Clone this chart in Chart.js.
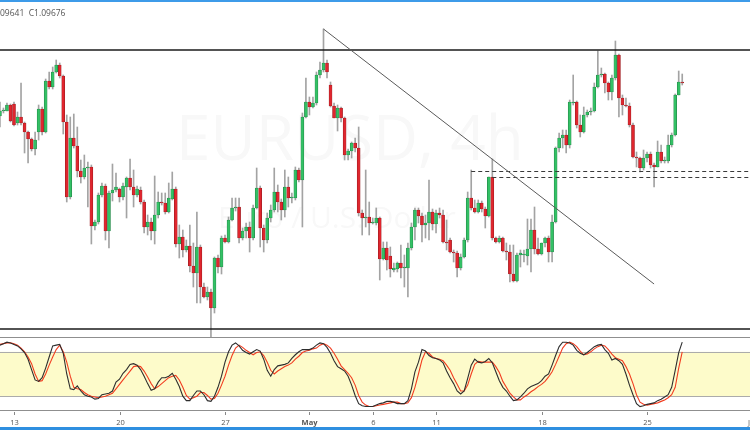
<!DOCTYPE html>
<html>
<head>
<meta charset="utf-8">
<title>EURUSD 4h</title>
<script src="https://cdn.jsdelivr.net/npm/chart.js@4.4.0/dist/chart.umd.min.js"></script>
<style>
  html, body { margin: 0; padding: 0; background: #fff; }
  #wrap { position: relative; width: 750px; height: 430px; overflow: hidden; font-family: "Open Sans", "DejaVu Sans", sans-serif; }
  #mainBox { position: absolute; left: 0; top: 0; width: 750px; height: 337px; }
  #oscBox { position: absolute; left: 0; top: 337px; width: 750px; height: 93px; }
  #topbar { position: absolute; left: 0; top: 0; width: 750px; height: 2px; background: #3d9be9; }
  #bottombar { position: absolute; left: 0; top: 427px; width: 750px; height: 3px; background: #2f8fe0; }
  #legend { position: absolute; left: 0; top: 7px; font-size: 8.5px; color: #555; white-space: nowrap; }
</style>
</head>
<body>
<div id="wrap">
  <div id="mainBox"><canvas id="main"></canvas></div>
  <div id="oscBox"><canvas id="osc"></canvas></div>
  <div id="topbar"></div>
  <div id="bottombar"></div>
  <div id="legend">09641&nbsp; C1.09676</div>
</div>
<script>
// candle index: 0 = Apr 13 00:00, 6 candles per trading day (4h)
const firstCandle = -4;

const open = [
  1.0934, 1.0939, 1.0939, 1.0945,
  1.0946, 1.0927, 1.0933, 1.0927, 1.0918, 1.0911, 1.0901, 1.0918, 1.0941, 1.0918,
  1.0969, 1.0963, 1.0978, 1.0985, 1.0974, 1.0928, 1.0853, 1.0912, 1.0904, 1.0879,
  1.0873, 1.0882, 1.0883, 1.0824, 1.0828, 1.0855, 1.0864, 1.0819, 1.0857, 1.0860,
  1.0861, 1.0853, 1.0863, 1.0872, 1.0863, 1.0855, 1.0860, 1.0848, 1.0823, 1.0828,
  1.0819, 1.0835, 1.0848, 1.0847, 1.0838, 1.0851, 1.0861, 1.0806, 1.0813, 1.0800,
  1.0804, 1.0784, 1.0777, 1.0803, 1.0763, 1.0753, 1.0758, 1.0742, 1.0792, 1.0783,
  1.0812, 1.0808, 1.0830, 1.0842, 1.0843, 1.0812, 1.0819, 1.0823, 1.0812, 1.0842,
  1.0862, 1.0822, 1.0810, 1.0832, 1.0840, 1.0858, 1.0848, 1.0840, 1.0863, 1.0852,
  1.0852, 1.0880, 1.0870, 1.0933, 1.0948, 1.0943, 1.0947, 1.0975, 1.0980, 1.0987,
  1.0965, 1.0944, 1.0932, 1.0942, 1.0932, 1.0895, 1.0899, 1.0907, 1.0902, 1.0837,
  1.0832, 1.0833, 1.0827, 1.0827, 1.0832, 1.0791, 1.0802, 1.0794, 1.0780, 1.0781,
  1.0787, 1.0782, 1.0782, 1.0802, 1.0823, 1.0840, 1.0834, 1.0825, 1.0827, 1.0838,
  1.0826, 1.0837, 1.0835, 1.0808, 1.0810, 1.0798, 1.0797, 1.0782, 1.0793, 1.0810,
  1.0852, 1.0842, 1.0838, 1.0847, 1.0841, 1.0834, 1.0873, 1.0812, 1.0808, 1.0812,
  1.0799, 1.0798, 1.0776, 1.0769, 1.0795, 1.0795, 1.0794, 1.0801, 1.0820, 1.0801,
  1.0796, 1.0807, 1.0812, 1.0798, 1.0828, 1.0902, 1.0912, 1.0915, 1.0905, 1.0947,
  1.0948, 1.0925, 1.0918, 1.0935, 1.0938, 1.0939, 1.0963, 1.0975, 1.0976, 1.0967,
  1.0958, 1.0972, 1.0995, 1.0952, 1.0945, 1.0944, 1.0925, 1.0893, 1.0892, 1.0882,
  1.0892, 1.0896, 1.0885, 1.0883, 1.0898, 1.0889, 1.0889, 1.0905, 1.0915, 1.0955,
  1.0968
];
const high = [
  1.0948, 1.0942, 1.0947, 1.0946,
  1.0948, 1.0938, 1.0967, 1.0928, 1.0919, 1.0912, 1.0918, 1.0945, 1.0943, 1.0971,
  1.0978, 1.0983, 1.0990, 1.0987, 1.0975, 1.0935, 1.0933, 1.0936, 1.0923, 1.0890,
  1.0895, 1.0888, 1.0885, 1.0830, 1.0857, 1.0867, 1.0866, 1.0859, 1.0886, 1.0877,
  1.0862, 1.0867, 1.0873, 1.0891, 1.0880, 1.0864, 1.0863, 1.0850, 1.0835, 1.0832,
  1.0874, 1.0858, 1.0857, 1.0857, 1.0867, 1.0878, 1.0863, 1.0825, 1.0820, 1.0810,
  1.0825, 1.0807, 1.0838, 1.0805, 1.0767, 1.0763, 1.0761, 1.0793, 1.0795, 1.0814,
  1.0815, 1.0833, 1.0852, 1.0852, 1.0852, 1.0822, 1.0827, 1.0828, 1.0845, 1.0882,
  1.0864, 1.0825, 1.0837, 1.0845, 1.0882, 1.0865, 1.0851, 1.0880, 1.0873, 1.0857,
  1.0883, 1.0882, 1.0937, 1.0972, 1.0953, 1.0953, 1.0978, 1.0988, 1.1021, 1.0990,
  1.0968, 1.0947, 1.0945, 1.0943, 1.0933, 1.0901, 1.0908, 1.0912, 1.0923, 1.0840,
  1.0880, 1.0848, 1.0832, 1.0842, 1.0833, 1.0808, 1.0808, 1.0803, 1.0787, 1.0788,
  1.0805, 1.0795, 1.0807, 1.0827, 1.0842, 1.0842, 1.0837, 1.0835, 1.0870, 1.0841,
  1.0840, 1.0842, 1.0840, 1.0830, 1.0812, 1.0800, 1.0799, 1.0796, 1.0812, 1.0858,
  1.0880, 1.0850, 1.0850, 1.0849, 1.0843, 1.0873, 1.0891, 1.0813, 1.0814, 1.0813,
  1.0807, 1.0805, 1.0805, 1.0797, 1.0800, 1.0800, 1.0831, 1.0831, 1.0843, 1.0812,
  1.0807, 1.0813, 1.0814, 1.0835, 1.0903, 1.0917, 1.0920, 1.0920, 1.0950, 1.0975,
  1.0949, 1.0935, 1.0943, 1.0940, 1.0942, 1.0967, 1.0999, 1.0982, 1.0977, 1.0968,
  1.0975, 1.1009, 1.0996, 1.0955, 1.0952, 1.0947, 1.0927, 1.0898, 1.0893, 1.0900,
  1.0898, 1.0898, 1.0887, 1.0909, 1.0905, 1.0893, 1.0915, 1.0917, 1.0956, 1.0979,
  1.0976
];
const low = [
  1.0923, 1.0937, 1.0939, 1.0928,
  1.0924, 1.0925, 1.0925, 1.0897, 1.0887, 1.0899, 1.0895, 1.0910, 1.0915, 1.0917,
  1.0961, 1.0961, 1.0977, 1.0972, 1.0916, 1.0848, 1.0851, 1.0902, 1.0873, 1.0867,
  1.0871, 1.0843, 1.0806, 1.0820, 1.0826, 1.0853, 1.0810, 1.0802, 1.0849, 1.0858,
  1.0848, 1.0850, 1.0832, 1.0860, 1.0843, 1.0853, 1.0846, 1.0817, 1.0815, 1.0810,
  1.0806, 1.0832, 1.0845, 1.0836, 1.0837, 1.0850, 1.0803, 1.0792, 1.0793, 1.0798,
  1.0778, 1.0763, 1.0747, 1.0747, 1.0752, 1.0750, 1.0713, 1.0737, 1.0777, 1.0776,
  1.0807, 1.0807, 1.0829, 1.0839, 1.0807, 1.0810, 1.0812, 1.0798, 1.0810, 1.0841,
  1.0803, 1.0798, 1.0807, 1.0828, 1.0838, 1.0838, 1.0830, 1.0833, 1.0843, 1.0847,
  1.0850, 1.0868, 1.0823, 1.0932, 1.0935, 1.0942, 1.0945, 1.0972, 1.0978, 1.0972,
  1.0943, 1.0932, 1.0919, 1.0928, 1.0890, 1.0890, 1.0892, 1.0898, 1.0834, 1.0815,
  1.0823, 1.0815, 1.0826, 1.0825, 1.0770, 1.0790, 1.0780, 1.0773, 1.0778, 1.0778,
  1.0772, 1.0763, 1.0753, 1.0800, 1.0810, 1.0827, 1.0808, 1.0812, 1.0810, 1.0820,
  1.0817, 1.0832, 1.0807, 1.0800, 1.0797, 1.0788, 1.0773, 1.0780, 1.0792, 1.0808,
  1.0840, 1.0837, 1.0837, 1.0838, 1.0822, 1.0833, 1.0810, 1.0807, 1.0807, 1.0798,
  1.0790, 1.0768, 1.0768, 1.0768, 1.0783, 1.0788, 1.0785, 1.0778, 1.0796, 1.0795,
  1.0795, 1.0803, 1.0788, 1.0788, 1.0827, 1.0898, 1.0902, 1.0897, 1.0902, 1.0945,
  1.0922, 1.0913, 1.0917, 1.0933, 1.0935, 1.0938, 1.0962, 1.0973, 1.0957, 1.0950,
  1.0950, 1.0970, 1.0933, 1.0935, 1.0943, 1.0923, 1.0892, 1.0883, 1.0878, 1.0880,
  1.0888, 1.0882, 1.0863, 1.0883, 1.0887, 1.0887, 1.0887, 1.0903, 1.0914, 1.0955,
  1.0965
];
const close = [
  1.0939, 1.0940, 1.0945, 1.0929,
  1.0925, 1.0933, 1.0927, 1.0918, 1.0911, 1.0901, 1.0910, 1.0941, 1.0918, 1.0969,
  1.0963, 1.0978, 1.0985, 1.0974, 1.0928, 1.0853, 1.0912, 1.0904, 1.0879, 1.0873,
  1.0882, 1.0883, 1.0824, 1.0828, 1.0855, 1.0864, 1.0819, 1.0857, 1.0860, 1.0863,
  1.0853, 1.0864, 1.0872, 1.0863, 1.0855, 1.0861, 1.0848, 1.0823, 1.0828, 1.0819,
  1.0835, 1.0848, 1.0847, 1.0838, 1.0852, 1.0861, 1.0806, 1.0813, 1.0800, 1.0804,
  1.0784, 1.0777, 1.0803, 1.0763, 1.0753, 1.0758, 1.0742, 1.0792, 1.0783, 1.0812,
  1.0808, 1.0830, 1.0842, 1.0843, 1.0812, 1.0819, 1.0823, 1.0812, 1.0842, 1.0862,
  1.0822, 1.0810, 1.0832, 1.0840, 1.0858, 1.0848, 1.0840, 1.0863, 1.0852, 1.0853,
  1.0880, 1.0870, 1.0933, 1.0948, 1.0943, 1.0947, 1.0975, 1.0980, 1.0987, 1.0978,
  1.0944, 1.0932, 1.0942, 1.0932, 1.0895, 1.0899, 1.0907, 1.0902, 1.0837, 1.0832,
  1.0833, 1.0827, 1.0828, 1.0832, 1.0791, 1.0802, 1.0790, 1.0781, 1.0782, 1.0787,
  1.0782, 1.0783, 1.0802, 1.0823, 1.0840, 1.0834, 1.0825, 1.0827, 1.0838, 1.0826,
  1.0837, 1.0835, 1.0808, 1.0807, 1.0798, 1.0797, 1.0782, 1.0793, 1.0810, 1.0852,
  1.0842, 1.0838, 1.0847, 1.0841, 1.0834, 1.0873, 1.0812, 1.0808, 1.0812, 1.0799,
  1.0798, 1.0776, 1.0769, 1.0795, 1.0797, 1.0796, 1.0801, 1.0820, 1.0801, 1.0796,
  1.0807, 1.0812, 1.0798, 1.0828, 1.0902, 1.0912, 1.0915, 1.0905, 1.0948, 1.0948,
  1.0925, 1.0918, 1.0935, 1.0938, 1.0939, 1.0963, 1.0975, 1.0976, 1.0967, 1.0958,
  1.0972, 1.0995, 1.0952, 1.0945, 1.0944, 1.0925, 1.0893, 1.0892, 1.0882, 1.0892,
  1.0896, 1.0885, 1.0883, 1.0898, 1.0889, 1.0890, 1.0905, 1.0915, 1.0955, 1.0968,
  1.0967
];

// stochastic %K (black) and %D (red)
const stochK = [
  89, 91, 93, 92,
  90, 88, 84, 79, 70, 56, 42, 40, 45, 58,
  73, 88, 89, 90, 78, 50, 30, 29, 34, 27,
  22, 20, 19, 16, 17, 22, 23, 24, 27, 39,
  43, 51, 56, 63, 64, 62, 56, 47, 37, 28,
  30, 39, 45, 45, 47, 51, 43, 33, 20, 14,
  14, 21, 27, 27, 22, 14, 13, 20, 32, 47,
  66, 80, 89, 92, 88, 82, 79, 77, 80, 83,
  81, 70, 55, 47, 56, 61, 62, 63, 65, 71,
  76, 80, 83, 83, 83, 85, 89, 92, 91, 86,
  78, 68, 60, 57, 54, 47, 35, 21, 10, 7,
  6, 6, 6, 8, 10, 11, 13, 13, 12, 10,
  10, 10, 14, 30, 53, 66, 83, 81, 75, 72,
  71, 69, 65, 54, 45, 37, 27, 23, 27, 44,
  62, 70, 66, 65, 67, 71, 65, 53, 41, 32,
  27, 20, 14, 15, 19, 24, 30, 33, 35, 37,
  41, 47, 50, 62, 75, 87, 93, 93, 92, 89,
  82, 78, 76, 79, 83, 87, 89, 90, 83, 78,
  69, 71, 68, 63, 50, 35, 22, 10, 6, 7,
  9, 10, 11, 14, 16, 19, 22, 32, 55, 79,
  93
];
const stochD = [
  90, 91, 92, 92,
  91, 89, 85, 80, 73, 64, 50, 40, 41, 50,
  62, 73, 83, 89, 80, 66, 47, 32, 30, 29,
  25, 22, 20, 19, 18, 19, 20, 22, 24, 30,
  36, 42, 48, 54, 60, 61, 60, 54, 46, 37,
  30, 33, 37, 41, 45, 47, 48, 42, 32, 21,
  16, 18, 20, 25, 25, 21, 16, 17, 24, 35,
  47, 62, 75, 85, 89, 86, 82, 79, 76, 79,
  80, 75, 66, 55, 50, 54, 57, 60, 62, 65,
  70, 74, 79, 81, 82, 84, 85, 89, 91, 89,
  85, 78, 70, 61, 56, 51, 45, 35, 21, 12,
  8, 6, 6, 7, 8, 9, 10, 11, 12, 12,
  10, 10, 11, 18, 32, 50, 69, 80, 78, 73,
  71, 70, 68, 62, 55, 45, 36, 27, 27, 35,
  50, 63, 67, 66, 66, 66, 66, 60, 52, 40,
  32, 24, 19, 15, 15, 19, 22, 26, 29, 33,
  36, 40, 46, 53, 63, 74, 85, 91, 93, 91,
  87, 81, 76, 77, 80, 84, 87, 89, 88, 83,
  77, 72, 70, 68, 60, 50, 37, 22, 12, 9,
  8, 9, 10, 11, 13, 15, 18, 22, 32, 58,
  80
];

const tickIndex = [0, 30, 60, 84, 102, 120, 150, 180, 210];
const tickLabel = ['13', '20', '27', 'May', '6', '11', '18', '25', 'Jun'];

// drawn levels
const levels = [1.1000, 1.0721];
const zoneLevels = [1.0879, 1.0873];
const zoneFrom = [130, 136];
const trendStart = [88, 1.1021];
const trendEnd = [182, 1.0766];
const bandLevels = [80, 20];

const viewMin = -3.98, viewMax = 209.27;
const priceMin = 1.0713, priceMax = 1.1050;

const idx = open.map((_, k) => k + firstCandle);
const isUp = close.map((c, k) => c >= open[k]);

// Watermark behind the candles
const watermark = {
  id: 'watermark',
  beforeDatasetsDraw(chart) {
    const ctx = chart.ctx;
    ctx.save();
    ctx.fillStyle = 'rgba(40,40,40,0.03)';
    ctx.textBaseline = 'alphabetic';
    ctx.font = '62px "Open Sans"';
    ctx.fillText('EURUSD, 4h', 176, 160);
    ctx.font = '30px "Open Sans"';
    ctx.fillText('Euro / U.S. Dollar', 218, 228);
    ctx.restore();
  }
};

// horizontal levels, dashed zone and trendline
const drawLevels = {
  id: 'drawLevels',
  afterDatasetsDraw(chart) {
    const { ctx, chartArea: a, scales: { x, y } } = chart;
    ctx.save();
    ctx.strokeStyle = '#1a1a1a';
    ctx.lineWidth = 1.5;
    levels.forEach(p => {
      const py = y.getPixelForValue(p);
      ctx.beginPath(); ctx.moveTo(a.left, py); ctx.lineTo(a.right, py); ctx.stroke();
    });
    ctx.strokeStyle = '#3a3a3a';
    ctx.lineWidth = 1;
    ctx.setLineDash([4, 3]);
    zoneLevels.forEach((p, n) => {
      const py = Math.round(y.getPixelForValue(p)) + 0.5;
      ctx.beginPath(); ctx.moveTo(x.getPixelForValue(zoneFrom[n]), py); ctx.lineTo(a.right, py); ctx.stroke();
    });
    ctx.setLineDash([]);
    ctx.strokeStyle = '#5a5a5a';
    ctx.beginPath();
    ctx.moveTo(x.getPixelForValue(trendStart[0]), y.getPixelForValue(trendStart[1]));
    ctx.lineTo(x.getPixelForValue(trendEnd[0]), y.getPixelForValue(trendEnd[1]));
    ctx.stroke();
    ctx.restore();
  }
};

new Chart(document.getElementById('main'), {
  type: 'bar',
  data: {
    datasets: [
      {
        label: 'wick',
        data: idx.map((x, k) => ({ x: x, y: [low[k], high[k]] })),
        backgroundColor: '#a3a3a3',
        barThickness: 1,
        grouped: false,
        order: 2
      },
      {
        label: 'body',
        data: idx.map((x, k) => ({ x: x, y: [open[k], close[k]] })),
        backgroundColor: isUp.map(u => u ? '#33c165' : '#e0262e'),
        borderColor: isUp.map(u => u ? '#217f44' : '#951b1f'),
        borderWidth: 0.6,
        borderSkipped: false,
        barThickness: 3,
        minBarLength: 1,
        grouped: false,
        order: 1
      }
    ]
  },
  options: {
    animation: false,
    responsive: true,
    maintainAspectRatio: false,
    layout: { padding: 0, autoPadding: false },
    plugins: { legend: { display: false }, tooltip: { enabled: false } },
    scales: {
      x: { type: 'linear', min: viewMin, max: viewMax, offset: false, display: false },
      y: { min: priceMin, max: priceMax, display: false }
    }
  },
  plugins: [watermark, drawLevels]
});

// yellow band + pane borders
const band = {
  id: 'band',
  beforeDatasetsDraw(chart) {
    const { ctx, chartArea: a, scales: { y } } = chart;
    const yTop = y.getPixelForValue(bandLevels[0]);
    const yBot = y.getPixelForValue(bandLevels[1]);
    ctx.save();
    ctx.fillStyle = '#fdfbca';
    ctx.fillRect(a.left, yTop, a.width, yBot - yTop);
    ctx.lineWidth = 1;
    ctx.strokeStyle = '#ababab';
    [yTop, yBot].forEach(p => {
      const py = Math.round(p) + 0.5;
      ctx.beginPath(); ctx.moveTo(a.left, py); ctx.lineTo(a.right, py); ctx.stroke();
    });
    ctx.strokeStyle = '#8f8f8f';
    [a.top + 0.5, Math.round(a.bottom) - 0.5].forEach(py => {
      ctx.beginPath(); ctx.moveTo(a.left, py); ctx.lineTo(a.right, py); ctx.stroke();
    });
    ctx.restore();
  }
};

// date axis under the oscillator
const dateAxis = {
  id: 'dateAxis',
  afterDraw(chart) {
    const { ctx, chartArea: a, scales: { x } } = chart;
    ctx.save();
    ctx.strokeStyle = '#888';
    ctx.lineWidth = 1;
    ctx.textAlign = 'center';
    ctx.textBaseline = 'middle';
    ctx.fillStyle = '#555';
    tickIndex.forEach((t, n) => {
      const px = Math.round(x.getPixelForValue(t)) + 0.5;
      ctx.beginPath(); ctx.moveTo(px, a.bottom + 1); ctx.lineTo(px, a.bottom + 4); ctx.stroke();
      ctx.font = (tickLabel[n] === 'May' ? 'bold ' : '') + '7.5px "Open Sans"';
      ctx.fillText(tickLabel[n], px, a.bottom + 12);
    });
    ctx.restore();
  }
};

new Chart(document.getElementById('osc'), {
  type: 'line',
  data: {
    datasets: [
      {
        label: '%K',
        data: idx.map((x, k) => ({ x: x, y: stochK[k] })),
        borderColor: '#2d2d2d',
        borderWidth: 1.1,
        pointRadius: 0,
        tension: 0
      },
      {
        label: '%D',
        data: idx.map((x, k) => ({ x: x, y: stochD[k] })),
        borderColor: '#f23c1f',
        borderWidth: 1.1,
        pointRadius: 0,
        tension: 0
      }
    ]
  },
  options: {
    animation: false,
    responsive: true,
    maintainAspectRatio: false,
    layout: { padding: { top: 0, bottom: 19, left: 0, right: 0 }, autoPadding: false },
    plugins: { legend: { display: false }, tooltip: { enabled: false } },
    scales: {
      x: { type: 'linear', min: viewMin, max: viewMax, offset: false, display: false },
      y: { min: 0, max: 100, display: false }
    }
  },
  plugins: [band, dateAxis]
});
</script>
</body>
</html>
